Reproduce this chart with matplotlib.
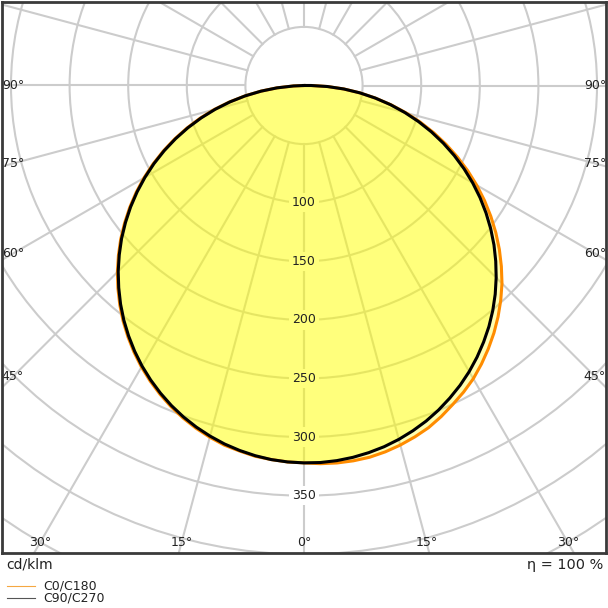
import numpy as np
import matplotlib
matplotlib.use("Agg")
from matplotlib import pyplot as plt
from matplotlib.patches import Circle
from matplotlib.lines import Line2D

# angles (deg from nadir, 2.5 deg steps) and intensities in cd/klm
angles = [i * 2.5 for i in range(37)]
c0_right = [322.0, 323.0, 323.3, 323.0, 322.1, 320.2, 317.6, 314.4, 310.7, 305.8,
            300.3, 294.9, 288.9, 281.8, 274.2, 266.2, 257.6, 248.5, 238.9, 228.4,
            217.6, 206.3, 194.6, 182.6, 170.2, 157.5, 144.5, 131.2, 117.7, 104.0,
            90.1, 76.1, 61.8, 48.0, 34.1, 20.0, 6.0]
c180_left = [322.0, 321.5, 320.4, 319.1, 316.7, 314.3, 310.7, 306.6, 301.9, 296.6,
             290.7, 284.3, 277.4, 269.9, 261.9, 253.5, 244.5, 235.0, 225.2, 214.8,
             204.2, 193.0, 181.6, 169.8, 157.7, 145.3, 132.6, 119.6, 106.4, 93.0,
             79.5, 65.3, 51.0, 37.0, 23.1, 9.0, 0.0]
c90_right = [322.0, 322.0, 321.3, 320.0, 318.1, 315.7, 312.6, 308.9, 304.7, 299.8,
             294.3, 288.4, 281.9, 274.8, 267.2, 259.2, 250.6, 241.5, 231.9, 221.9,
             211.6, 200.8, 189.6, 178.1, 166.2, 154.0, 141.5, 128.7, 115.7, 102.5,
             89.1, 75.6, 61.8, 48.0, 34.1, 20.0, 6.0]
c270_left = [322.0, 321.5, 320.4, 318.6, 316.2, 313.3, 309.7, 305.6, 300.9, 295.6,
             289.7, 283.3, 276.4, 268.9, 260.9, 252.5, 243.5, 234.0, 224.2, 213.8,
             203.2, 192.0, 180.6, 168.8, 156.7, 144.3, 131.6, 118.6, 105.4, 92.0,
             78.5, 64.8, 51.0, 37.0, 23.1, 9.0, 0.0]

rings = [50, 100, 150, 200, 250, 300, 350, 400, 450]
ring_labels = [100, 150, 200, 250, 300, 350]
bottom_labels = [-30, -15, 0, 15, 30]
side_labels = [45, 60, 75, 90]
eta = "η = 100 %"

W = 608
px = 1.172  # pixels per cd/klm
ox, oy = 304, 85.5  # origin in pixels
left, right, top, bottom = 2, 606, 2, 553

fig = plt.figure(figsize=(W / 100, W / 100), dpi=100)
ax = fig.add_axes([left / W, (W - bottom) / W, (right - left) / W, (bottom - top) / W])
ax.set_xlim((left - ox) / px, (right - ox) / px)
ax.set_ylim(-(bottom - oy) / px, (oy - top) / px)
ax.set_xticks([])
ax.set_yticks([])
for s in ax.spines.values():
    s.set_color("#3a3a3a")
    s.set_linewidth(2)
    s.set_zorder(10)

grid_col = "#cccccc"
for r in rings:
    ax.add_patch(Circle((0, 0), r, fill=False, ec=grid_col, lw=1.5, zorder=1))
for a in range(0, 360, 15):
    t = np.radians(a)
    ax.plot([50 * np.sin(t), 800 * np.sin(t)], [-50 * np.cos(t), -800 * np.cos(t)],
            color=grid_col, lw=1.5, zorder=1)


def curve(left_vals, right_vals):
    g = np.radians(angles)
    xl = -np.array(left_vals) * np.sin(g)
    yl = -np.array(left_vals) * np.cos(g)
    xr = np.array(right_vals) * np.sin(g)
    yr = -np.array(right_vals) * np.cos(g)
    x = np.concatenate([xl[::-1], xr[1:], xl[-1:]])
    y = np.concatenate([yl[::-1], yr[1:], yl[-1:]])
    return x, y


x0, y0 = curve(c180_left, c0_right)
x9, y9 = curve(c270_left, c90_right)
ax.fill(x0, y0, color="#ffff00", alpha=0.3, lw=0, zorder=2)
ax.fill(x9, y9, color="#ffff00", alpha=0.3, lw=0, zorder=2)
ax.plot(x0, y0, color="#ff8c00", lw=2.2, zorder=3, solid_joinstyle="round")
ax.plot(x9, y9, color="black", lw=2.2, zorder=4, solid_joinstyle="round")

tc = "#222222"
for r in ring_labels:
    # white patch under the fill hides the grid behind the label
    ax.text(0, -r, str(r), ha="center", va="center", fontsize=9, color="none", zorder=1.5,
            bbox=dict(boxstyle="square,pad=0.25", fc="white", ec="none"))
    ax.text(0, -r, str(r), ha="center", va="center", fontsize=9, color=tc, zorder=5)

# angle labels along box edges
yb = -(543 - oy) / px
for a in bottom_labels:
    ax.text(-yb * np.tan(np.radians(a)), yb, "%d°" % abs(a), ha="center", va="center",
            fontsize=9, color=tc, zorder=5)
xs = (right - ox - 11) / px
for a in side_labels:
    yy = -xs / np.tan(np.radians(a)) if a < 90 else 0
    ax.text(-xs, yy, "%d°" % a, ha="center", va="center", fontsize=9, color=tc, zorder=5)
    ax.text(xs, yy, "%d°" % a, ha="center", va="center", fontsize=9, color=tc, zorder=5)

fig.text(6 / W, 1 - 565 / W, "cd/klm", ha="left", va="center", fontsize=10, color=tc)
fig.text(603 / W, 1 - 565 / W, eta, ha="right", va="center", fontsize=10.4, color=tc)
fig.add_artist(Line2D([7 / W, 35 / W], [1 - 586 / W, 1 - 586 / W], color="#f5a742", lw=0.8))
fig.add_artist(Line2D([7 / W, 35 / W], [1 - 598 / W, 1 - 598 / W], color="#555555", lw=0.8))
fig.text(43 / W, 1 - 586 / W, "C0/C180", ha="left", va="center", fontsize=9, color=tc)
fig.text(43 / W, 1 - 598 / W, "C90/C270", ha="left", va="center", fontsize=9, color=tc)

fig.savefig("out.png", dpi=100)
